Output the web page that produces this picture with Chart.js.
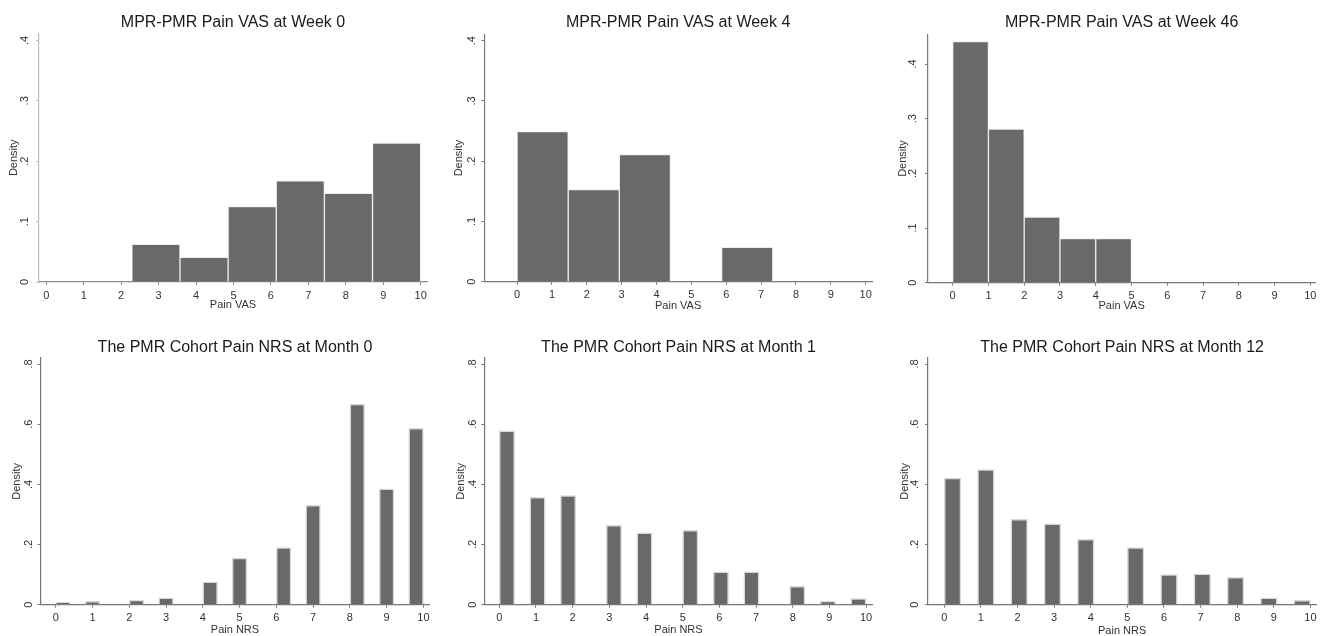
<!DOCTYPE html>
<html>
<head>
<meta charset="utf-8">
<title>Pain VAS / NRS histograms</title>
<script src="https://cdn.jsdelivr.net/npm/chart.js@4.4.1/dist/chart.umd.min.js"></script>
<style>
  html, body { margin: 0; padding: 0; background: #fff; }
  #grid { position: relative; width: 1324px; height: 636px; overflow: hidden; }
  .panel { position: absolute; }
</style>
</head>
<body>
<div id="grid"></div>
<script>
// tick labels
const painTicks = [0, 1, 2, 3, 4, 5, 6, 7, 8, 9, 10];
const vasDensityTicks = [0, 0.1, 0.2, 0.3, 0.4];
const nrsDensityTicks = [0, 0.2, 0.4, 0.6, 0.8];

// MPR-PMR pain VAS: histogram bin edges and densities
const week0Edges = [1, 2.286, 3.571, 4.857, 6.143, 7.429, 8.714, 10];
const week0Density = [0, 0.0625, 0.041, 0.125, 0.1675, 0.147, 0.23];
const week4Edges = [0, 1.467, 2.933, 4.4, 5.867, 7.333, 8.8];
const week4Density = [0.249, 0.153, 0.211, 0, 0.057, 0];
const week46Edges = [0, 1, 2, 3, 4, 5];
const week46Density = [0.441, 0.281, 0.12, 0.0805, 0.0805];

// PMR cohort pain NRS: density per score, and number of bins over 0-10
const nrsScores = [0, 1, 2, 3, 4, 5, 6, 7, 8, 9, 10];
const month0Density = [0.008, 0.011, 0.015, 0.023, 0.076, 0.155, 0.19, 0.33, 0.667, 0.385, 0.586];
const month1Density = [0.578, 0.357, 0.363, 0.264, 0.239, 0.247, 0.109, 0.109, 0.061, 0.012, 0.02];
const month12Density = [0.421, 0.449, 0.284, 0.269, 0.217, 0.19, 0.10, 0.103, 0.091, 0.023, 0.0145];
const month0Bins = 25;
const month1Bins = 24;
const month12Bins = 22;

const FONT = "'Liberation Sans', Arial, sans-serif";

function binBars(edges, dens) {
  return dens.map((d, i) => ({ x: (edges[i] + edges[i + 1]) / 2, y: d }));
}

function nrsEdges(n) {
  const e = [];
  for (let k = 0; k <= n; k++) e.push(k * 10 / n);
  return e;
}

function nrsBars(n, dens) {
  const edges = nrsEdges(n);
  const bars = edges.slice(0, -1).map((e, i) => ({ x: (e + edges[i + 1]) / 2, y: null }));
  nrsScores.forEach((s, i) => {
    bars[Math.min(Math.floor(s * n / 10), n - 1)].y = dens[i];
  });
  return bars;
}

function densityLabel(v) {
  return v === 0 ? '0' : String(v).replace(/^0\./, '.');
}

// panel placement (pixels) copied from the stitched figure
const panels = [
  { title: 'MPR-PMR Pain VAS at Week 0', xTitle: 'Pain VAS', left: 0, top: 0, w: 441, h: 318,
    area: { l: 39, r: 427, t: 33.5, b: 282 }, xMin: -0.195, xMax: 10.17, yMax: 0.4114,
    yTicks: vasDensityTicks, edges: week0Edges, bars: binBars(week0Edges, week0Density),
    titleMid: 22.8, yTitleX: 13.7, yLabOff: 14.5, xTitleBelow: 23, yAxisColor: '#bdbdbd', xAxisColor: '#8a8a8a',
    edge: '#ececec', bw: 1 },
  { title: 'MPR-PMR Pain VAS at Week 4', xTitle: 'Pain VAS', left: 441, top: 0, w: 441, h: 318,
    area: { l: 43.3, r: 431, t: 34.3, b: 281.7 }, xMin: -0.94, xMax: 10.18, yMax: 0.4106,
    yTicks: vasDensityTicks, edges: week4Edges, bars: binBars(week4Edges, week4Density),
    titleMid: 22.8, yTitleX: 17.5, yLabOff: 12.3, xTitleBelow: 24, yAxisColor: '#7a7a7a', xAxisColor: '#7a7a7a',
    edge: '#ececec', bw: 1 },
  { title: 'MPR-PMR Pain VAS at Week 46', xTitle: 'Pain VAS', left: 882, top: 0, w: 442, h: 318,
    area: { l: 46, r: 433.3, t: 34.3, b: 282.7 }, xMin: -0.69, xMax: 10.14, yMax: 0.4544,
    yTicks: vasDensityTicks, edges: week46Edges, bars: binBars(week46Edges, week46Density),
    titleMid: 22.8, yTitleX: 20.8, yLabOff: 14.7, xTitleBelow: 23.3, yAxisColor: '#7a7a7a', xAxisColor: '#7a7a7a',
    edge: '#ececec', bw: 1 },
  { title: 'The PMR Cohort Pain NRS at Month 0', xTitle: 'Pain NRS', left: 0, top: 318, w: 441, h: 318,
    area: { l: 40.7, r: 429.3, t: 40, b: 286.7 }, xMin: -0.408, xMax: 10.16, yMax: 0.82,
    yTicks: nrsDensityTicks, edges: nrsEdges(month0Bins), bars: nrsBars(month0Bins, month0Density),
    titleMid: 29.5, yTitleX: 16.7, yLabOff: 11.7, xTitleBelow: 25, yAxisColor: '#777', xAxisColor: '#777',
    edge: '#d9d9d9', bw: 1.5 },
  { title: 'The PMR Cohort Pain NRS at Month 1', xTitle: 'Pain NRS', left: 441, top: 318, w: 441, h: 318,
    area: { l: 43.3, r: 431.7, t: 40, b: 286.7 }, xMin: -0.409, xMax: 10.18, yMax: 0.82,
    yTicks: nrsDensityTicks, edges: nrsEdges(month1Bins), bars: nrsBars(month1Bins, month1Density),
    titleMid: 29.5, yTitleX: 20, yLabOff: 11.3, xTitleBelow: 25, yAxisColor: '#777', xAxisColor: '#777',
    edge: '#d9d9d9', bw: 1.5 },
  { title: 'The PMR Cohort Pain NRS at Month 12', xTitle: 'Pain NRS', left: 882, top: 318, w: 442, h: 318,
    area: { l: 46, r: 434.3, t: 40, b: 286.7 }, xMin: -0.445, xMax: 10.16, yMax: 0.82,
    yTicks: nrsDensityTicks, edges: nrsEdges(month12Bins), bars: nrsBars(month12Bins, month12Density),
    titleMid: 29.5, yTitleX: 22.5, yLabOff: 12.7, xTitleBelow: 25.8, yAxisColor: '#777', xAxisColor: '#777',
    edge: '#d9d9d9', bw: 1.5 }
];

const grid = document.getElementById('grid');

panels.forEach(p => {
  const div = document.createElement('div');
  div.className = 'panel';
  div.style.left = p.left + 'px';
  div.style.top = p.top + 'px';
  div.style.width = p.w + 'px';
  div.style.height = p.h + 'px';
  const canvas = document.createElement('canvas');
  div.appendChild(canvas);
  grid.appendChild(div);

  const padLeft = p.yTitleX - 6.6;
  const xH = p.xTitleBelow + 6.6;

  new Chart(canvas, {
    type: 'bar',
    data: {
      datasets: [{
        data: p.bars,
        xAxisID: 'xb',
        backgroundColor: '#696969',
        borderColor: p.edge,
        borderWidth: p.bw,
        barPercentage: 1,
        categoryPercentage: 1
      }]
    },
    options: {
      responsive: true,
      maintainAspectRatio: false,
      animation: false,
      layout: {
        padding: { left: padLeft, right: p.w - p.area.r, top: 0, bottom: p.h - p.area.b - xH }
      },
      plugins: {
        legend: { display: false },
        tooltip: { enabled: false },
        title: {
          display: true,
          text: p.title,
          fullSize: false,
          color: '#1a1a1a',
          font: { family: FONT, size: 16, weight: 'normal' },
          padding: { top: p.titleMid - 9.6, bottom: p.area.t - p.titleMid - 9.6 }
        }
      },
      scales: {
        xb: {
          type: 'linear',
          display: false,
          offset: false,
          grid: { offset: false },
          min: p.xMin,
          max: p.xMax,
          afterBuildTicks: s => { s.ticks = p.edges.map(v => ({ value: v })); }
        },
        x: {
          type: 'linear',
          position: 'bottom',
          offset: false,
          min: p.xMin,
          max: p.xMax,
          afterBuildTicks: s => { s.ticks = painTicks.map(v => ({ value: v })); },
          afterFit: s => { s.height = xH; },
          ticks: {
            autoSkip: false,
            maxRotation: 0,
            padding: 4,
            color: '#333',
            font: { family: FONT, size: 11 },
            callback: v => String(v)
          },
          grid: { offset: false, drawOnChartArea: false, drawTicks: true, tickLength: 3, tickColor: p.xAxisColor, tickWidth: 1 },
          border: { display: true, color: p.xAxisColor, width: 1.2 },
          title: { display: true, text: p.xTitle, color: '#333', font: { family: FONT, size: 11 }, padding: 0 }
        },
        y: {
          min: 0,
          max: p.yMax,
          afterBuildTicks: s => { s.ticks = p.yTicks.map(v => ({ value: v })); },
          afterFit: s => { s.width = p.area.l - padLeft; },
          ticks: {
            minRotation: 90,
            maxRotation: 90,
            crossAlign: 'center',
            padding: Math.max(0, p.yLabOff - 7.6),
            color: '#333',
            font: { family: FONT, size: 11 },
            callback: v => densityLabel(v)
          },
          grid: { drawOnChartArea: false, drawTicks: true, tickLength: 3, tickColor: p.yAxisColor, tickWidth: 1 },
          border: { display: true, color: p.yAxisColor, width: 1.2 },
          title: { display: true, text: 'Density', color: '#333', font: { family: FONT, size: 11 }, padding: 0 }
        }
      }
    }
  });
});
</script>
</body>
</html>
